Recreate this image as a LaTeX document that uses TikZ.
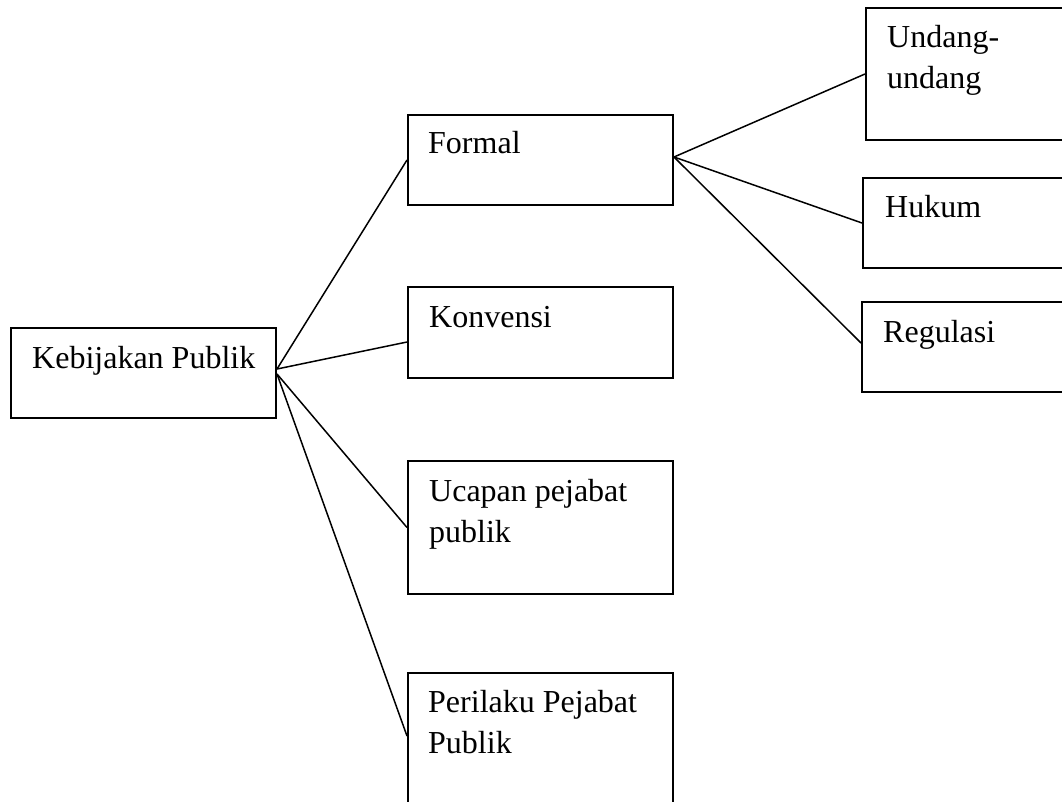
\documentclass[tikz,border=0pt]{standalone}
\usepackage{fontspec}
\setmainfont{Liberation Serif}
\begin{document}
\begin{tikzpicture}[x=1pt,y=-1pt,
  box/.style={draw, line width=2pt, rectangle, inner sep=0pt, anchor=north west},
  lbl/.style={anchor=base west, inner sep=0pt, align=left, font=\fontsize{32}{40.5}\selectfont},
  link/.style={line width=1.5pt}]
\useasboundingbox (0,0) rectangle (1062,801);
\clip (0,0) rectangle (1062,801);
\fill[white] (0,0) rectangle (1062,801);
% boxes
\node[box, minimum width=265pt, minimum height=90pt] (keb) at (10,327) {};
\node[box, minimum width=265pt, minimum height=90pt] (for) at (407,114) {};
\node[box, minimum width=265pt, minimum height=91pt] (kon) at (407,286) {};
\node[box, minimum width=265pt, minimum height=133pt] (uca) at (407,460) {};
\node[box, minimum width=265pt, minimum height=150pt] (per) at (407,672) {};
\node[box, minimum width=240pt, minimum height=132pt] (und) at (865,7) {};
\node[box, minimum width=240pt, minimum height=90pt] (huk) at (862,177) {};
\node[box, minimum width=240pt, minimum height=90pt] (reg) at (861,301) {};
% labels (base anchor = baseline of last line)
\node[lbl] (tkeb) at (32,368) {Kebijakan Publik};
\node[lbl] (tfor) at (428,153) {Formal};
\node[lbl] (tkon) at (429,327) {Konvensi};
\node[lbl] (tuca) at (429,542) {Ucapan pejabat\\publik};
\node[lbl] (tper) at (428,753) {Perilaku Pejabat\\Publik};
\node[lbl] (tund) at (887,88) {Undang-\\undang};
\node[lbl] (thuk) at (885,217) {Hukum};
\node[lbl] (treg) at (883,342) {Regulasi};
% connectors
\draw[link] ([yshift=4pt]keb.east) -- (for.west);
\draw[link] ([yshift=4pt]keb.east) -- ([yshift=-9.5pt]kon.west);
\draw[link] ([yshift=-1pt]keb.east) -- (uca.west);
\draw[link] ([yshift=-1pt]keb.east) -- ([yshift=12pt]per.west);
\draw[link] ([yshift=3pt]for.east) -- (und.west);
\draw[link] ([yshift=3pt]for.east) -- (huk.west);
\draw[link] ([yshift=3pt]for.east) -- ([yshift=4pt]reg.west);
\end{tikzpicture}
\end{document}
